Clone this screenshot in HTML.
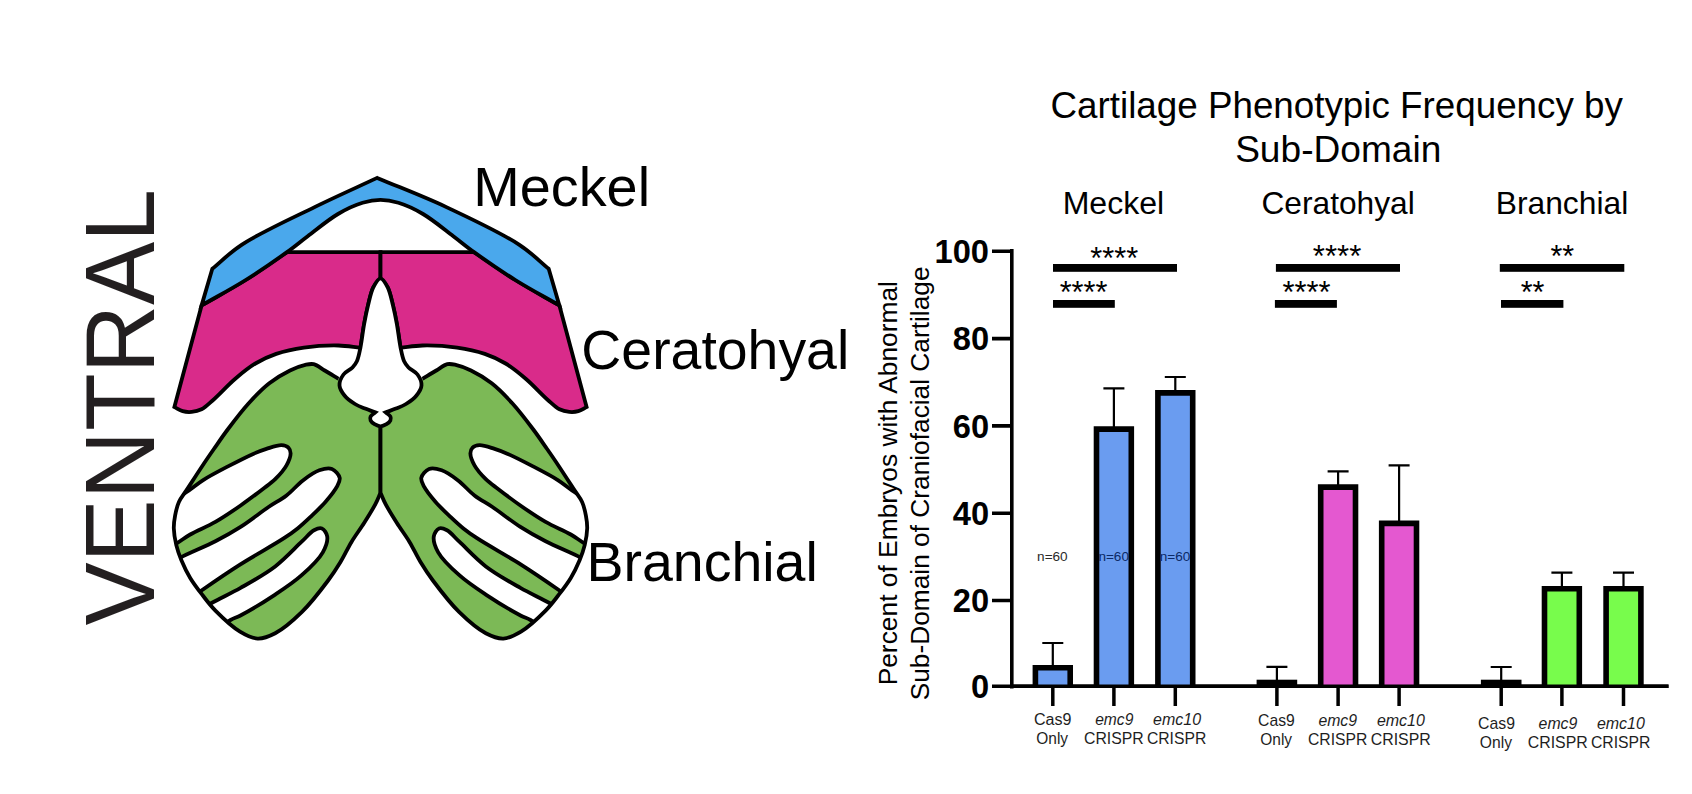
<!DOCTYPE html>
<html><head><meta charset="utf-8">
<style>
html,body{margin:0;padding:0;background:#fff;}
body{width:1692px;height:794px;overflow:hidden;}
svg{display:block;}
text{font-family:"Liberation Sans",sans-serif;fill:#000;}
.tk{font-weight:bold;font-size:31px;}
.xl{font-size:15.5px;text-anchor:middle;fill:#1a1a1a;}
.it{font-style:italic;}
.st{font-size:31px;text-anchor:middle;}
.nn{font-size:13px;text-anchor:middle;fill:#2a2a2a;}
.gl{font-size:31px;text-anchor:middle;}
.tt{font-size:36.5px;text-anchor:middle;}
.yl{font-size:26px;text-anchor:middle;}
.big{font-size:53.6px;}
</style></head>
<body>
<svg width="1692" height="794" viewBox="0 0 1692 794">
<rect width="1692" height="794" fill="#fff"/>

<g id="half">
<clipPath id="lc"><path d="M380.50 492.70 C378.80 496.50 377.59 499.89 375.40 504.10 C372.49 509.68 368.05 516.75 364.10 523.00 C360.09 529.35 355.43 535.41 351.50 541.90 C347.56 548.41 344.43 555.52 340.50 562.00 C336.62 568.38 333.22 573.66 328.10 580.50 C321.13 589.81 311.00 603.10 301.70 612.20 C293.28 620.44 283.53 628.94 275.20 633.30 C269.06 636.51 263.42 638.85 257.60 638.60 C251.69 638.35 246.04 635.24 240.00 631.60 C232.10 626.84 222.02 617.29 215.40 610.60 C210.24 605.38 206.90 600.81 202.80 595.50 C198.49 589.93 193.82 583.92 190.20 577.90 C186.74 572.14 183.79 565.94 181.40 560.20 C179.26 555.04 177.56 550.33 176.30 545.10 C175.00 539.68 173.92 533.43 173.80 528.20 C173.70 523.70 174.29 519.85 175.10 515.60 C175.95 511.12 177.00 506.22 178.90 502.00 C180.78 497.83 183.41 495.00 186.40 490.40 C190.81 483.61 197.82 472.65 202.80 465.20 C206.82 459.18 209.98 454.63 213.90 449.00 C218.23 442.79 222.52 436.39 227.70 429.50 C233.82 421.37 241.31 411.42 248.50 403.50 C255.21 396.11 262.05 388.95 269.30 383.30 C275.94 378.12 283.47 373.67 290.00 370.50 C295.35 367.90 300.92 365.87 305.30 364.90 C308.43 364.21 310.73 363.57 313.60 364.20 C317.15 364.98 320.81 368.23 324.70 370.50 C329.07 373.05 333.90 376.03 338.50 378.80 L382 400 L382 492.7 Z"/></clipPath>
<path d="M380.50 492.70 C378.80 496.50 377.59 499.89 375.40 504.10 C372.49 509.68 368.05 516.75 364.10 523.00 C360.09 529.35 355.43 535.41 351.50 541.90 C347.56 548.41 344.43 555.52 340.50 562.00 C336.62 568.38 333.22 573.66 328.10 580.50 C321.13 589.81 311.00 603.10 301.70 612.20 C293.28 620.44 283.53 628.94 275.20 633.30 C269.06 636.51 263.42 638.85 257.60 638.60 C251.69 638.35 246.04 635.24 240.00 631.60 C232.10 626.84 222.02 617.29 215.40 610.60 C210.24 605.38 206.90 600.81 202.80 595.50 C198.49 589.93 193.82 583.92 190.20 577.90 C186.74 572.14 183.79 565.94 181.40 560.20 C179.26 555.04 177.56 550.33 176.30 545.10 C175.00 539.68 173.92 533.43 173.80 528.20 C173.70 523.70 174.29 519.85 175.10 515.60 C175.95 511.12 177.00 506.22 178.90 502.00 C180.78 497.83 183.41 495.00 186.40 490.40 C190.81 483.61 197.82 472.65 202.80 465.20 C206.82 459.18 209.98 454.63 213.90 449.00 C218.23 442.79 222.52 436.39 227.70 429.50 C233.82 421.37 241.31 411.42 248.50 403.50 C255.21 396.11 262.05 388.95 269.30 383.30 C275.94 378.12 283.47 373.67 290.00 370.50 C295.35 367.90 300.92 365.87 305.30 364.90 C308.43 364.21 310.73 363.57 313.60 364.20 C317.15 364.98 320.81 368.23 324.70 370.50 C329.07 373.05 333.90 376.03 338.50 378.80 L382 400 L382 492.7 Z" fill="#7cb956"/>
<g clip-path="url(#lc)" fill="#fff" stroke="#000" stroke-width="3.8">
<path d="M160.00 506.00 C168.40 501.63 177.70 497.50 185.20 492.90 C191.75 488.88 196.27 484.42 202.80 480.30 C210.32 475.55 219.55 470.82 228.00 466.40 C236.35 462.03 246.08 457.00 253.20 453.90 C258.24 451.70 261.81 450.34 266.40 448.90 C271.22 447.39 277.46 444.90 281.50 445.10 C284.27 445.24 286.88 446.11 288.40 447.60 C289.78 448.96 290.56 451.04 290.60 453.30 C290.66 456.55 288.69 461.36 286.50 465.30 C283.90 469.98 279.30 475.04 275.20 479.10 C271.30 482.96 267.42 485.48 262.60 489.20 C256.32 494.04 248.27 500.17 240.60 505.50 C232.57 511.08 223.94 517.01 215.40 521.90 C207.13 526.64 197.16 530.49 190.20 534.50 C184.99 537.51 182.01 540.10 177.00 543.20 C170.65 547.14 162.33 551.73 155.00 556.00Z"/><path d="M155.00 572.00 C163.37 567.23 170.91 562.44 180.10 557.70 C190.76 552.20 204.73 546.82 215.40 541.30 C224.62 536.54 232.09 532.33 240.60 526.90 C249.90 520.96 260.52 512.46 268.90 506.80 C275.40 502.41 280.91 499.81 286.50 495.50 C292.27 491.05 297.22 484.70 302.90 480.40 C308.18 476.40 313.99 472.10 319.30 470.30 C323.60 468.84 328.47 467.65 331.90 469.00 C335.22 470.30 339.04 474.75 339.70 477.90 C340.28 480.69 338.53 483.52 336.90 486.70 C334.56 491.24 329.83 496.91 325.60 501.80 C321.10 507.00 315.37 512.29 310.50 516.90 C306.17 521.00 302.30 524.66 297.90 528.20 C293.47 531.76 290.04 534.23 284.00 538.20 C273.55 545.08 254.07 555.66 240.00 564.60 C226.62 573.10 212.42 582.89 201.50 590.50 C193.24 596.25 187.17 600.83 180.00 606.00Z"/><path d="M190.00 616.00 C197.20 611.67 203.80 607.37 211.60 603.00 C220.49 598.02 230.62 593.59 240.60 587.90 C251.74 581.55 264.78 574.37 275.20 566.40 C285.02 558.88 294.54 548.36 301.70 541.70 C306.57 537.17 310.08 532.37 314.00 530.30 C316.72 528.86 319.75 527.65 321.90 528.50 C324.23 529.43 326.68 533.17 327.20 536.40 C327.89 540.66 325.81 546.89 322.80 552.30 C318.67 559.73 309.51 568.23 301.70 575.20 C293.68 582.36 284.82 588.22 275.20 594.60 C264.45 601.74 248.11 611.45 240.00 615.70 C235.91 617.84 234.16 617.94 230.50 620.00 C224.85 623.18 216.83 629.33 210.00 634.00Z"/>
</g>
<path d="M380.50 492.70 C378.80 496.50 377.59 499.89 375.40 504.10 C372.49 509.68 368.05 516.75 364.10 523.00 C360.09 529.35 355.43 535.41 351.50 541.90 C347.56 548.41 344.43 555.52 340.50 562.00 C336.62 568.38 333.22 573.66 328.10 580.50 C321.13 589.81 311.00 603.10 301.70 612.20 C293.28 620.44 283.53 628.94 275.20 633.30 C269.06 636.51 263.42 638.85 257.60 638.60 C251.69 638.35 246.04 635.24 240.00 631.60 C232.10 626.84 222.02 617.29 215.40 610.60 C210.24 605.38 206.90 600.81 202.80 595.50 C198.49 589.93 193.82 583.92 190.20 577.90 C186.74 572.14 183.79 565.94 181.40 560.20 C179.26 555.04 177.56 550.33 176.30 545.10 C175.00 539.68 173.92 533.43 173.80 528.20 C173.70 523.70 174.29 519.85 175.10 515.60 C175.95 511.12 177.00 506.22 178.90 502.00 C180.78 497.83 183.41 495.00 186.40 490.40 C190.81 483.61 197.82 472.65 202.80 465.20 C206.82 459.18 209.98 454.63 213.90 449.00 C218.23 442.79 222.52 436.39 227.70 429.50 C233.82 421.37 241.31 411.42 248.50 403.50 C255.21 396.11 262.05 388.95 269.30 383.30 C275.94 378.12 283.47 373.67 290.00 370.50 C295.35 367.90 300.92 365.87 305.30 364.90 C308.43 364.21 310.73 363.57 313.60 364.20 C317.15 364.98 320.81 368.23 324.70 370.50 C329.07 373.05 333.90 376.03 338.50 378.80 M380.5 420 V493" fill="none" stroke="#000" stroke-width="3.8" stroke-linejoin="round"/>
<path d="M287 252.1 L380.5 252.2 L380.5 278.3  C378.10 281.30 375.25 283.54 373.30 287.30 C370.80 292.12 369.52 299.41 368.00 305.50 C366.50 311.51 365.39 317.11 364.20 323.60 C362.83 331.07 361.67 339.73 360.40 347.80  C353.10 347.03 346.64 345.68 338.50 345.50 C328.29 345.28 314.73 346.05 303.90 347.60 C294.09 349.00 284.64 351.03 276.20 353.90 C268.62 356.48 262.09 359.48 255.40 363.50 C248.33 367.75 241.77 373.21 235.00 379.00 C227.60 385.33 219.17 394.71 212.90 400.20 C208.58 403.99 205.36 407.35 201.50 409.30 C198.28 410.92 194.92 411.61 191.70 411.90 C188.66 412.18 185.56 412.00 182.70 411.20 C179.79 410.39 177.17 408.40 174.40 407.00 L201.6 305.4  C216.30 296.93 231.40 288.93 245.70 280.00 C259.86 271.16 273.23 261.40 287.00 252.10Z" fill="#d92b8a" stroke="#000" stroke-width="3.8" stroke-linejoin="miter"/>
</g>
<use href="#half" transform="translate(761.0,0) scale(-1,1)"/>
<path d="M385.70 412.40 C389.10 411.13 392.53 409.99 395.90 408.60 C399.30 407.19 402.73 406.03 406.00 404.00 C409.61 401.77 413.88 398.78 416.50 395.50 C418.90 392.51 421.31 388.87 421.50 385.40 C421.69 381.88 419.68 377.49 417.50 374.50 C415.34 371.54 410.85 369.98 408.50 367.50 C406.55 365.43 405.22 363.68 404.00 361.00 C402.39 357.48 401.65 352.89 400.60 347.80 C399.19 340.98 398.17 331.07 396.80 323.60 C395.61 317.11 394.50 311.51 393.00 305.50 C391.48 299.41 390.20 292.12 387.70 287.30 C385.75 283.54 382.90 278.30 380.50 278.30 C378.10 278.30 375.25 283.54 373.30 287.30 C370.80 292.12 369.52 299.41 368.00 305.50 C366.50 311.51 365.39 317.11 364.20 323.60 C362.83 331.07 361.81 340.98 360.40 347.80 C359.35 352.89 358.61 357.48 357.00 361.00 C355.78 363.68 354.45 365.43 352.50 367.50 C350.15 369.98 345.66 371.54 343.50 374.50 C341.32 377.49 339.31 381.88 339.50 385.40 C339.69 388.87 342.10 392.51 344.50 395.50 C347.12 398.78 351.39 401.77 355.00 404.00 C358.27 406.03 361.70 407.19 365.10 408.60 C368.47 409.99 371.90 411.13 375.30 412.40  C373.73 413.77 371.30 414.97 370.60 416.50 C370.04 417.73 370.08 419.29 370.60 420.50 C371.20 421.90 372.94 423.25 374.50 424.20 C376.19 425.23 378.50 426.30 380.50 426.30 C382.50 426.30 384.81 425.23 386.50 424.20 C388.06 423.25 389.80 421.90 390.40 420.50 C390.92 419.29 390.96 417.73 390.40 416.50 C389.70 414.97 387.27 413.77 385.70 412.40Z" fill="#fff" stroke="#000" stroke-width="3.8"/>
<path d="M201.6 305.4 L212.3 268.8  C222.07 260.80 229.10 253.02 241.60 244.80 C260.01 232.70 291.09 218.65 314.60 207.10 C336.16 196.51 356.33 187.63 377.20 177.90  C400.27 187.63 423.24 196.25 446.40 207.10 C470.63 218.45 500.99 232.70 519.40 244.80 C531.90 253.02 538.93 260.80 548.70 268.80 L559.4 305.4  C544.70 296.93 529.60 288.93 515.30 280.00 C501.14 271.16 485.31 260.25 474.00 252.10 C465.81 246.20 460.89 241.89 453.30 236.20 C444.19 229.37 432.87 219.78 423.00 214.00 C414.63 209.10 406.10 205.13 398.40 202.80 C392.10 200.89 386.47 199.90 380.50 199.90 C374.53 199.90 368.90 200.89 362.60 202.80 C354.90 205.13 346.37 209.10 338.00 214.00 C328.13 219.78 316.81 229.37 307.70 236.20 C300.11 241.89 295.19 246.20 287.00 252.10 C275.69 260.25 259.86 271.16 245.70 280.00 C231.40 288.93 216.30 296.93 201.60 305.40Z" fill="#4aa8ec" stroke="#000" stroke-width="3.8" stroke-linejoin="miter"/>

<text transform="translate(473.30,206.00) scale(1.0092,1)" style="font-size:55.3px;">Meckel</text>
<text transform="translate(581.33,368.80) scale(1.0019,1)" style="font-size:55.3px;">Ceratohyal</text>
<text transform="translate(586.52,581.00) scale(1.0036,1)" style="font-size:55.3px;">Branchial</text>
<text transform="translate(154.00,625.47) rotate(-90) scale(0.9583,1)" style="font-size:98.7px;fill:#231f20">VENTRAL</text>
<text transform="translate(1050.56,117.80) scale(0.9995,1)" style="font-size:36.8px;">Cartilage Phenotypic Frequency by</text>
<text transform="translate(1235.13,161.60) scale(1.0086,1)" style="font-size:36.8px;">Sub-Domain</text>
<text transform="translate(1062.65,214.30) scale(1.0056,1)" style="font-size:31.9px;">Meckel</text>
<text transform="translate(1261.41,214.20) scale(0.9942,1)" style="font-size:31.9px;">Ceratohyal</text>
<text transform="translate(1495.78,214.10) scale(0.9958,1)" style="font-size:31.9px;">Branchial</text>
<text transform="translate(897.00,685.37) rotate(-90) scale(1.0023,1)" style="font-size:26.3px;">Percent of Embryos with Abnormal</text>
<text transform="translate(929.40,700.28) rotate(-90) scale(0.9999,1)" style="font-size:26.3px;">Sub-Domain of Craniofacial Cartilage</text>
<text transform="translate(1037.08,561.00) scale(0.9998,1)" style="font-size:13.6px;fill:#2a2a2a">n=60</text>
<path d="M1011.8 249 V688.5 M992 251.3 H1013.5 M992 338.6 H1013.5 M992 425.9 H1013.5 M992 513.2 H1013.5 M992 600.5 H1013.5 M992 686.3 H1668.5" stroke="#000" stroke-width="3.6" fill="none"/>
<text transform="translate(934.54,263.02) scale(0.9750,1)" style="font-size:33.5px;font-weight:bold;">100</text>
<text transform="translate(952.75,350.32) scale(0.9750,1)" style="font-size:33.5px;font-weight:bold;">80</text>
<text transform="translate(952.75,437.62) scale(0.9750,1)" style="font-size:33.5px;font-weight:bold;">60</text>
<text transform="translate(952.75,524.91) scale(0.9750,1)" style="font-size:33.5px;font-weight:bold;">40</text>
<text transform="translate(952.75,612.21) scale(0.9750,1)" style="font-size:33.5px;font-weight:bold;">20</text>
<text transform="translate(970.88,698.01) scale(0.9750,1)" style="font-size:33.5px;font-weight:bold;">0</text>
<path d="M1052.8 667.8 V643.0 M1042.3 643.0 H1063.3" stroke="#000" stroke-width="2.2"/>
<rect x="1035.4" y="667.8" width="34.8" height="18.5" fill="#6a9cf0"/>
<path d="M1035.4 686.3 V667.8 H1070.2 V686.3" fill="none" stroke="#000" stroke-width="5.6" stroke-linejoin="miter"/>
<path d="M1052.8 686 V706" stroke="#000" stroke-width="3.5"/>
<path d="M1113.9 429.1 V388.4 M1103.4 388.4 H1124.4" stroke="#000" stroke-width="2.2"/>
<rect x="1096.5" y="429.1" width="34.8" height="257.2" fill="#6a9cf0"/>
<path d="M1096.5 686.3 V429.1 H1131.3 V686.3" fill="none" stroke="#000" stroke-width="5.6" stroke-linejoin="miter"/>
<path d="M1113.9 686 V706" stroke="#000" stroke-width="3.5"/>
<path d="M1175.3 392.9 V377.0 M1164.8 377.0 H1185.8" stroke="#000" stroke-width="2.2"/>
<rect x="1157.9" y="392.9" width="34.8" height="293.4" fill="#6a9cf0"/>
<path d="M1157.9 686.3 V392.9 H1192.7 V686.3" fill="none" stroke="#000" stroke-width="5.6" stroke-linejoin="miter"/>
<path d="M1175.3 686 V706" stroke="#000" stroke-width="3.5"/>
<path d="M1276.9 682.5 V666.8 M1266.4 666.8 H1287.4" stroke="#000" stroke-width="2.2"/>
<rect x="1256.6" y="679.7" width="40.6" height="6.6" fill="#000"/>
<path d="M1276.9 686 V706" stroke="#000" stroke-width="3.5"/>
<path d="M1338.1 487.1 V471.3 M1327.6 471.3 H1348.6" stroke="#000" stroke-width="2.2"/>
<rect x="1320.7" y="487.1" width="34.8" height="199.2" fill="#e458d0"/>
<path d="M1320.7 686.3 V487.1 H1355.5 V686.3" fill="none" stroke="#000" stroke-width="5.6" stroke-linejoin="miter"/>
<path d="M1338.1 686 V706" stroke="#000" stroke-width="3.5"/>
<path d="M1399.1 523.4 V465.4 M1388.6 465.4 H1409.6" stroke="#000" stroke-width="2.2"/>
<rect x="1381.7" y="523.4" width="34.8" height="162.9" fill="#e458d0"/>
<path d="M1381.7 686.3 V523.4 H1416.5 V686.3" fill="none" stroke="#000" stroke-width="5.6" stroke-linejoin="miter"/>
<path d="M1399.1 686 V706" stroke="#000" stroke-width="3.5"/>
<path d="M1501.2 682.5 V667.0 M1490.7 667.0 H1511.7" stroke="#000" stroke-width="2.2"/>
<rect x="1480.9" y="679.7" width="40.6" height="6.6" fill="#000"/>
<path d="M1501.2 686 V706" stroke="#000" stroke-width="3.5"/>
<path d="M1561.9 588.8 V572.7 M1551.4 572.7 H1572.4" stroke="#000" stroke-width="2.2"/>
<rect x="1544.5" y="588.8" width="34.8" height="97.5" fill="#78fc4c"/>
<path d="M1544.5 686.3 V588.8 H1579.3 V686.3" fill="none" stroke="#000" stroke-width="5.6" stroke-linejoin="miter"/>
<path d="M1561.9 686 V706" stroke="#000" stroke-width="3.5"/>
<path d="M1623.5 588.8 V572.7 M1613.0 572.7 H1634.0" stroke="#000" stroke-width="2.2"/>
<rect x="1606.1" y="588.8" width="34.8" height="97.5" fill="#78fc4c"/>
<path d="M1606.1 686.3 V588.8 H1640.9 V686.3" fill="none" stroke="#000" stroke-width="5.6" stroke-linejoin="miter"/>
<path d="M1623.5 686 V706" stroke="#000" stroke-width="3.5"/>
<path d="M1011.8 686.3 H1668.5" stroke="#000" stroke-width="3.6"/>
<text transform="translate(1034.00,725.34) scale(1.0183,1)" style="font-size:15.8px;fill:#1e1e1e">Cas9</text>
<text transform="translate(1036.27,744.24) scale(0.9786,1)" style="font-size:15.8px;fill:#1e1e1e">Only</text>
<text transform="translate(1095.19,725.34) scale(0.9867,1)" style="font-size:15.8px;font-style:italic;fill:#1e1e1e">emc9</text>
<text transform="translate(1084.01,744.24) scale(1.0010,1)" style="font-size:15.8px;fill:#1e1e1e">CRISPR</text>
<text transform="translate(1153.08,725.34) scale(1.0135,1)" style="font-size:15.8px;font-style:italic;fill:#1e1e1e">emc10</text>
<text transform="translate(1146.91,744.24) scale(0.9958,1)" style="font-size:15.8px;fill:#1e1e1e">CRISPR</text>
<text transform="translate(1258.11,726.04) scale(0.9957,1)" style="font-size:15.8px;fill:#1e1e1e">Cas9</text>
<text transform="translate(1260.27,745.04) scale(0.9786,1)" style="font-size:15.8px;fill:#1e1e1e">Only</text>
<text transform="translate(1318.39,726.04) scale(1.0000,1)" style="font-size:15.8px;font-style:italic;fill:#1e1e1e">emc9</text>
<text transform="translate(1308.01,745.04) scale(0.9958,1)" style="font-size:15.8px;fill:#1e1e1e">CRISPR</text>
<text transform="translate(1376.88,726.04) scale(1.0114,1)" style="font-size:15.8px;font-style:italic;fill:#1e1e1e">emc10</text>
<text transform="translate(1370.71,745.04) scale(1.0061,1)" style="font-size:15.8px;fill:#1e1e1e">CRISPR</text>
<text transform="translate(1478.11,728.54) scale(1.0013,1)" style="font-size:15.8px;fill:#1e1e1e">Cas9</text>
<text transform="translate(1479.86,747.74) scale(0.9912,1)" style="font-size:15.8px;fill:#1e1e1e">Only</text>
<text transform="translate(1538.59,728.54) scale(1.0026,1)" style="font-size:15.8px;font-style:italic;fill:#1e1e1e">emc9</text>
<text transform="translate(1527.71,747.74) scale(1.0061,1)" style="font-size:15.8px;fill:#1e1e1e">CRISPR</text>
<text transform="translate(1596.88,728.54) scale(1.0114,1)" style="font-size:15.8px;font-style:italic;fill:#1e1e1e">emc10</text>
<text transform="translate(1590.91,747.74) scale(0.9975,1)" style="font-size:15.8px;fill:#1e1e1e">CRISPR</text>
<rect x="1053" y="264" width="124.0" height="7.8" fill="#000"/>
<rect x="1053" y="300" width="61.8" height="7.8" fill="#000"/>
<rect x="1275.9" y="264" width="124.1" height="7.8" fill="#000"/>
<rect x="1274.9" y="300" width="62.0" height="7.8" fill="#000"/>
<rect x="1499.8" y="264" width="124.5" height="7.8" fill="#000"/>
<rect x="1501" y="300" width="62.4" height="7.8" fill="#000"/>
<text transform="translate(1090.36,268.57) scale(1.0078,1)" style="font-size:30.5px;">****</text>
<text transform="translate(1059.66,303.37) scale(1.0078,1)" style="font-size:30.5px;">****</text>
<text transform="translate(1312.86,266.57) scale(1.0208,1)" style="font-size:30.5px;">****</text>
<text transform="translate(1282.46,303.37) scale(1.0121,1)" style="font-size:30.5px;">****</text>
<text transform="translate(1550.47,266.57) scale(0.9990,1)" style="font-size:30.5px;">**</text>
<text transform="translate(1520.77,303.37) scale(0.9990,1)" style="font-size:30.5px;">**</text>
<text transform="translate(1098.38,561.00) scale(0.9998,1)" style="font-size:13.6px;fill:#0c2a66">n=60</text>
<text transform="translate(1159.78,561.00) scale(0.9998,1)" style="font-size:13.6px;fill:#0c2a66">n=60</text>
</svg>
</body></html>
